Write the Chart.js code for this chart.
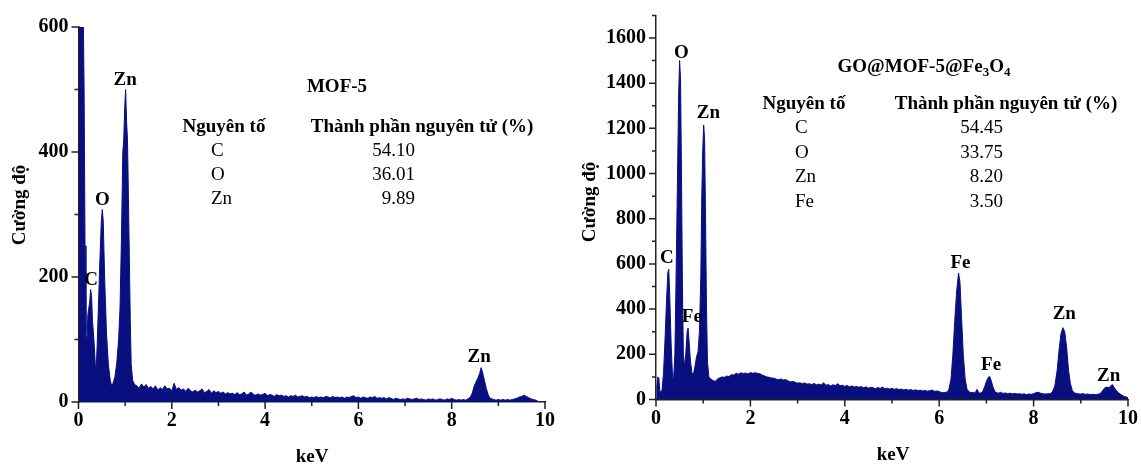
<!DOCTYPE html>
<html>
<head>
<meta charset="utf-8">
<title>EDX MOF-5 / GO@MOF-5@Fe3O4</title>
<script src="https://cdn.jsdelivr.net/npm/chart.js@4.4.1/dist/chart.umd.min.js"></script>
<style>
    body { margin: 0; background: #fff; }
    canvas { position: absolute; top: 0; }
</style>
</head>
<body>
<canvas id="mofChart" width="570" height="464" style="left:0"></canvas>
<canvas id="goChart" width="571" height="464" style="left:570px"></canvas>

<script>
// 1. Data (energy in keV, intensity in counts)

// MOF-5
const mofKeV = [
    0.00, 0.05, 0.10, 0.12, 0.14, 0.16, 0.18, 0.20, 0.22, 0.24,
    0.26, 0.28, 0.30, 0.33, 0.36, 0.38, 0.40, 0.43, 0.46, 0.49,
    0.51, 0.53, 0.56, 0.60, 0.64, 0.68, 0.71, 0.74, 0.78, 0.82,
    0.86, 0.89, 0.92, 0.95, 0.97, 0.99, 1.01, 1.03, 1.05, 1.07,
    1.09, 1.11, 1.13, 1.16, 1.20,
    1.25, 1.30, 1.35, 1.40, 1.45, 1.50, 1.55, 1.60, 1.65, 1.70,
    1.75, 1.80, 1.85, 1.90, 1.95, 2.00, 2.05, 2.10, 2.15, 2.20,
    2.25, 2.30, 2.35, 2.40, 2.45, 2.50, 2.55, 2.60, 2.65, 2.70,
    2.75, 2.80, 2.85, 2.90, 2.95, 3.00, 3.05, 3.10, 3.15, 3.20,
    3.25, 3.30, 3.35, 3.40, 3.45, 3.50, 3.55, 3.60, 3.65, 3.70,
    3.75, 3.80, 3.85, 3.90, 3.95, 4.00, 4.05, 4.10, 4.15, 4.20,
    4.25, 4.30, 4.35, 4.40, 4.45, 4.50, 4.55, 4.60, 4.65, 4.70,
    4.75, 4.80, 4.85, 4.90, 4.95, 5.00, 5.05, 5.10, 5.15, 5.20,
    5.25, 5.30, 5.35, 5.40, 5.45, 5.50, 5.55, 5.60, 5.65, 5.70,
    5.75, 5.80, 5.85, 5.90, 5.95, 6.00, 6.05, 6.10, 6.15, 6.20,
    6.25, 6.30, 6.35, 6.40, 6.45, 6.50, 6.55, 6.60, 6.65, 6.70,
    6.75, 6.80, 6.85, 6.90, 6.95, 7.00, 7.05, 7.10, 7.15, 7.20,
    7.25, 7.30, 7.35, 7.40, 7.45, 7.50, 7.55, 7.60, 7.65, 7.70,
    7.75, 7.80, 7.85, 7.90, 7.95, 8.00, 8.05, 8.10, 8.15, 8.20,
    8.25, 8.30, 8.35,
    8.40, 8.44, 8.48, 8.52, 8.56, 8.60, 8.63, 8.66, 8.70, 8.74,
    8.78, 8.82, 8.86, 8.90, 8.95, 9.00, 9.05, 9.10, 9.15, 9.20,
    9.25, 9.30, 9.35, 9.40, 9.45, 9.50, 9.55, 9.60, 9.65, 9.70,
    9.75, 9.80, 9.85, 9.90, 10.00
];
const mofCounts = [
    640, 650, 640, 500, 250, 110, 95, 140, 150, 160,
    180, 170, 130, 100, 60, 55, 90, 160, 230, 290,
    308, 290, 200, 110, 60, 35, 26, 30, 40, 62,
    100, 150, 260, 400, 420, 470, 500, 450, 420, 330,
    230, 130, 60, 35, 28,
    26, 22, 29, 24, 28, 22, 25, 21, 26, 19,
    23, 20, 26, 21, 22, 18, 30, 20, 23, 19,
    21, 17, 22, 18, 16, 19, 16, 18, 21, 15,
    17, 20, 14, 18, 15, 17, 14, 16, 13, 15,
    13, 14, 12, 15, 12, 13, 16, 11, 13, 16,
    12, 11, 13, 11, 12, 14, 10, 12, 11, 9,
    12, 10, 11, 9, 10, 8, 10, 9, 11, 8,
    9, 10, 8, 9, 7, 8, 7, 9, 7, 8,
    7, 9, 8, 7, 9, 7, 8, 7, 8, 6,
    8, 7, 9, 10, 7, 8, 6, 8, 7, 6,
    8, 7, 9, 6, 7, 6, 7, 5, 7, 6,
    4, 6, 5, 4, 5, 4, 6, 5, 4, 5,
    6, 4, 5, 4, 3, 5, 4, 5, 3, 4,
    5, 4, 3, 5, 4, 6, 4, 3, 4, 3,
    4, 3, 5,
    8, 14, 25, 32, 38, 46, 55, 48, 35, 22,
    12, 6, 5, 4, 3, 4, 3, 4, 3, 4,
    3, 4, 5, 6, 8, 9, 11, 9, 7, 5,
    4, 3, 1, 0, 0
];

// GO@MOF-5@Fe3O4
const goKeV = [
    0.00, 0.02, 0.04, 0.06, 0.08, 0.10, 0.13, 0.16, 0.19, 0.22,
    0.25, 0.27, 0.29, 0.32, 0.35, 0.37, 0.40, 0.43, 0.46, 0.48,
    0.50, 0.52, 0.54, 0.56, 0.58, 0.60, 0.63, 0.66, 0.68, 0.70,
    0.73, 0.76, 0.79, 0.82, 0.86, 0.89, 0.92, 0.95, 0.97, 0.99,
    1.01, 1.03, 1.05, 1.07, 1.09, 1.12, 1.15, 1.20,
    1.25, 1.30, 1.35, 1.40, 1.45, 1.50, 1.55, 1.60, 1.65, 1.70,
    1.75, 1.80, 1.85, 1.90, 1.95, 2.00, 2.05, 2.10, 2.15, 2.20,
    2.25, 2.30, 2.35, 2.40, 2.45, 2.50, 2.55, 2.60, 2.65, 2.70,
    2.75, 2.80, 2.85, 2.90, 2.95, 3.00, 3.05, 3.10, 3.15, 3.20,
    3.25, 3.30, 3.35, 3.40, 3.45, 3.50, 3.55, 3.60, 3.65, 3.70,
    3.75, 3.80, 3.85, 3.90, 3.95, 4.00, 4.05, 4.10, 4.15, 4.20,
    4.25, 4.30, 4.35, 4.40, 4.45, 4.50, 4.55, 4.60, 4.65, 4.70,
    4.75, 4.80, 4.85, 4.90, 4.95, 5.00, 5.05, 5.10, 5.15, 5.20,
    5.25, 5.30, 5.35, 5.40, 5.45, 5.50, 5.55, 5.60, 5.65, 5.70,
    5.75, 5.80, 5.85, 5.90, 5.95, 6.00, 6.05, 6.10, 6.15, 6.20,
    6.25, 6.29, 6.33, 6.37, 6.41, 6.44, 6.47, 6.51, 6.55, 6.59,
    6.63, 6.67, 6.72, 6.76, 6.80, 6.84, 6.88, 6.92, 6.96, 7.00,
    7.04, 7.07, 7.10, 7.14, 7.18, 7.22, 7.26, 7.30, 7.35, 7.40,
    7.45, 7.50, 7.55, 7.60, 7.65, 7.70, 7.75, 7.80, 7.85, 7.90,
    7.95, 8.00, 8.05, 8.10, 8.15, 8.20, 8.25, 8.30, 8.35, 8.40,
    8.45, 8.50, 8.54, 8.58, 8.62, 8.66, 8.70, 8.74, 8.78, 8.82,
    8.86, 8.90, 8.95, 9.00, 9.05, 9.10, 9.15, 9.20, 9.25, 9.30,
    9.35, 9.40, 9.45, 9.50, 9.55, 9.60, 9.64, 9.67, 9.70, 9.75,
    9.80, 9.85, 9.90, 9.95, 10.00
];
const goCounts = [
    0, 60, 100, 95, 40, 30, 45, 120, 260, 420,
    560, 577, 470, 250, 100, 80, 200, 600, 1050, 1350,
    1500, 1420, 1000, 500, 200, 145, 200, 300, 316, 260,
    170, 120, 108, 140, 190, 210, 300, 550, 900, 1100,
    1215, 1150, 800, 400, 170, 100, 92, 85,
    80, 90, 96, 100, 98, 104, 102, 110, 108, 116,
    112, 118, 115, 117, 113, 119, 116, 118, 116, 114,
    108, 104, 100, 98, 95, 94, 90, 88, 91, 86,
    88, 82, 78, 80, 76, 72, 74, 70, 73, 68,
    70, 66, 71, 65, 68, 64, 74, 63, 66, 60,
    65, 62, 70, 61, 63, 58, 62, 56, 60, 55,
    58, 54, 57, 52, 56, 50, 54, 52, 48, 53,
    49, 55, 47, 50, 46, 49, 45, 48, 44, 46,
    42, 45, 41, 44, 40, 43, 39, 41, 38, 40,
    37, 39, 42, 36, 38, 35, 31, 30, 32, 40,
    90, 200, 350, 480, 560, 520, 380, 200, 90, 45,
    35, 30, 32, 28, 45, 30, 28, 35, 55, 80,
    98, 102, 85, 55, 35, 30, 28, 32, 27, 29,
    26, 28, 25, 27, 24, 26, 23, 25, 22, 24,
    23, 26, 30, 32, 28, 25, 24, 26, 25, 35,
    60, 130, 220, 290, 318, 300, 230, 130, 70, 40,
    30, 27, 25, 24, 26, 23, 24, 22, 23, 21,
    23, 25, 35, 50, 55, 52, 62, 66, 55, 40,
    30, 22, 15, 12, 8
];

// Tick labels
const keVTicks = [0, 2, 4, 6, 8, 10];
const mofCountTicks = [0, 200, 400, 600];
const goCountTicks = [0, 200, 400, 600, 800, 1000, 1200, 1400, 1600];

// Composition tables shown inside each plot
const mofElements = ['C', 'O', 'Zn'];
const mofPercent = ['54.10', '36.01', '9.89'];
const goElements = ['C', 'O', 'Zn', 'Fe'];
const goPercent = ['54.45', '33.75', '8.20', '3.50'];

const NAVY = '#0a0f80';
const SERIF = '"Liberation Serif", "Times New Roman", serif';

// 2. Extra drawing: minor/major tick marks, titles, peak labels, table
function decorPlugin(setup) {
    return {
        id: 'decor',
        afterDraw(chart) {
            const ctx = chart.ctx;
            const xs = chart.scales.x, ys = chart.scales.y;
            const area = chart.chartArea;
            ctx.save();

            // tick marks (outside), long on labelled values
            ctx.strokeStyle = '#222';
            ctx.lineWidth = 1.5;
            ctx.beginPath();
            for (let v = 0; v <= setup.yMax; v += 100) {
                const y = ys.getPixelForValue(v);
                const len = setup.yTicks.includes(v) ? 7 : 4;
                ctx.moveTo(area.left - len, y);
                ctx.lineTo(area.left, y);
            }
            for (let k = 0; k <= 10; k++) {
                const x = xs.getPixelForValue(k);
                const len = keVTicks.includes(k) ? 7 : 4;
                ctx.moveTo(x, area.bottom);
                ctx.lineTo(x, area.bottom + len);
            }
            ctx.stroke();

            ctx.fillStyle = '#000';
            ctx.textBaseline = 'middle';

            // axis titles
            ctx.font = 'bold 19px ' + SERIF;
            ctx.textAlign = 'center';
            ctx.fillText('keV', setup.xTitle[0], setup.xTitle[1]);
            ctx.save();
            ctx.translate(setup.yTitle[0], setup.yTitle[1]);
            ctx.rotate(-Math.PI / 2);
            ctx.fillText('Cường độ', 0, 0);
            ctx.restore();

            // peak labels, anchored in data units
            ctx.font = 'bold 19px ' + SERIF;
            setup.peaks.forEach(p => {
                ctx.fillText(p.name, xs.getPixelForValue(p.keV), ys.getPixelForValue(p.count));
            });

            // sample name (with subscripts)
            const big = 'bold 19px ' + SERIF, small = 'bold 13px ' + SERIF;
            let total = 0;
            setup.title.forEach(part => {
                ctx.font = part.sub ? small : big;
                total += ctx.measureText(part.text).width;
            });
            let tx = setup.titlePos[0] - total / 2;
            ctx.textAlign = 'left';
            setup.title.forEach(part => {
                ctx.font = part.sub ? small : big;
                ctx.fillText(part.text, tx, setup.titlePos[1] + (part.sub ? 6 : 0));
                tx += ctx.measureText(part.text).width;
            });

            // composition table
            const t = setup.table;
            ctx.font = 'bold 19px ' + SERIF;
            ctx.textAlign = 'center';
            ctx.fillText('Nguyên tố', t.nameHead, t.headY);
            ctx.fillText('Thành phần nguyên tử (%)', t.pctHead, t.headY);
            ctx.font = '19px ' + SERIF;
            t.elements.forEach((el, i) => {
                const y = t.rowY + i * t.rowGap;
                ctx.textAlign = 'left';
                ctx.fillText(el, t.nameX, y);
                ctx.textAlign = 'right';
                ctx.fillText(t.values[i], t.valueX, y);
            });

            ctx.restore();
        }
    };
}

// keep the layout padding exact (no extra room for end labels)
function noAutoPadding(s) {
    s.paddingTop = 0;
    s.paddingBottom = 0;
    s.paddingLeft = 0;
    s.paddingRight = 0;
}

// 3. Build one spectrum panel
function buildSpectrum(canvasId, keV, counts, setup) {
    const points = keV.map((k, i) => ({ x: k, y: counts[i] }));
    const tickFont = { family: SERIF, size: 20, weight: 'bold' };

    return new Chart(document.getElementById(canvasId), {
        type: 'line',
        data: {
            datasets: [{
                data: points,
                borderColor: NAVY,
                backgroundColor: NAVY,
                borderWidth: 1,
                fill: 'origin',
                pointRadius: 0,
                tension: 0
            }]
        },
        options: {
            responsive: false,
            animation: false,
            devicePixelRatio: 1,
            layout: { padding: setup.padding },
            plugins: { legend: { display: false }, tooltip: { enabled: false } },
            scales: {
                x: {
                    type: 'linear', min: 0, max: 10,
                    grid: { display: false, drawTicks: false },
                    border: { display: true, color: '#222', width: 1.5 },
                    ticks: { autoSkip: false, maxRotation: 0, padding: 7, color: '#000', font: tickFont,
                             callback: v => String(v) },
                    afterBuildTicks: s => { s.ticks = keVTicks.map(v => ({ value: v })); },
                    afterFit: s => { s.height = setup.xAxisHeight; noAutoPadding(s); }
                },
                y: {
                    min: 0, max: setup.yMax,
                    grid: { display: false, drawTicks: false },
                    border: { display: true, color: '#222', width: 1.5 },
                    ticks: { autoSkip: false, padding: 10, color: '#000', font: tickFont,
                             callback: v => String(v) },
                    afterBuildTicks: s => { s.ticks = setup.yTicks.map(v => ({ value: v })); },
                    afterFit: s => { s.width = setup.yAxisWidth; noAutoPadding(s); }
                }
            }
        },
        plugins: [decorPlugin(setup)]
    });
}

// 4. Left panel: MOF-5
buildSpectrum('mofChart', mofKeV, mofCounts, {
    yMax: 600,
    yTicks: mofCountTicks,
    padding: { top: 27, right: 25, left: 0, bottom: 0 },
    xAxisHeight: 62,
    yAxisWidth: 78.5,
    xTitle: [312, 457],
    yTitle: [20, 205],
    peaks: [
        { name: 'Zn', keV: 1.00, count: 515 },
        { name: 'O', keV: 0.51, count: 323 },
        { name: 'C', keV: 0.27, count: 195 },
        { name: 'Zn', keV: 8.59, count: 72 }
    ],
    title: [{ text: 'MOF-5' }],
    titlePos: [337, 87],
    table: {
        elements: mofElements, values: mofPercent,
        headY: 127, nameHead: 224, pctHead: 422,
        nameX: 211, valueX: 415, rowY: 151, rowGap: 24
    }
});

// 5. Right panel: GO@MOF-5@Fe3O4
buildSpectrum('goChart', goKeV, goCounts, {
    yMax: 1700,
    yTicks: goCountTicks,
    padding: { top: 15.4, right: 13, left: 0, bottom: 0 },
    xAxisHeight: 64.5,
    yAxisWidth: 86,
    xTitle: [323, 455],
    yTitle: [20, 202],
    peaks: [
        { name: 'O', keV: 0.54, count: 1534 },
        { name: 'Zn', keV: 1.11, count: 1268 },
        { name: 'C', keV: 0.23, count: 626 },
        { name: 'Fe', keV: 0.76, count: 363 },
        { name: 'Fe', keV: 6.45, count: 604 },
        { name: 'Fe', keV: 7.10, count: 153 },
        { name: 'Zn', keV: 8.65, count: 378 },
        { name: 'Zn', keV: 9.59, count: 104 }
    ],
    title: [{ text: 'GO@MOF-5@Fe' }, { text: '3', sub: true }, { text: 'O' }, { text: '4', sub: true }],
    titlePos: [354, 67],
    table: {
        elements: goElements, values: goPercent,
        headY: 104, nameHead: 234, pctHead: 436,
        nameX: 225, valueX: 433, rowY: 128, rowGap: 24.7
    }
});
</script>
</body>
</html>
